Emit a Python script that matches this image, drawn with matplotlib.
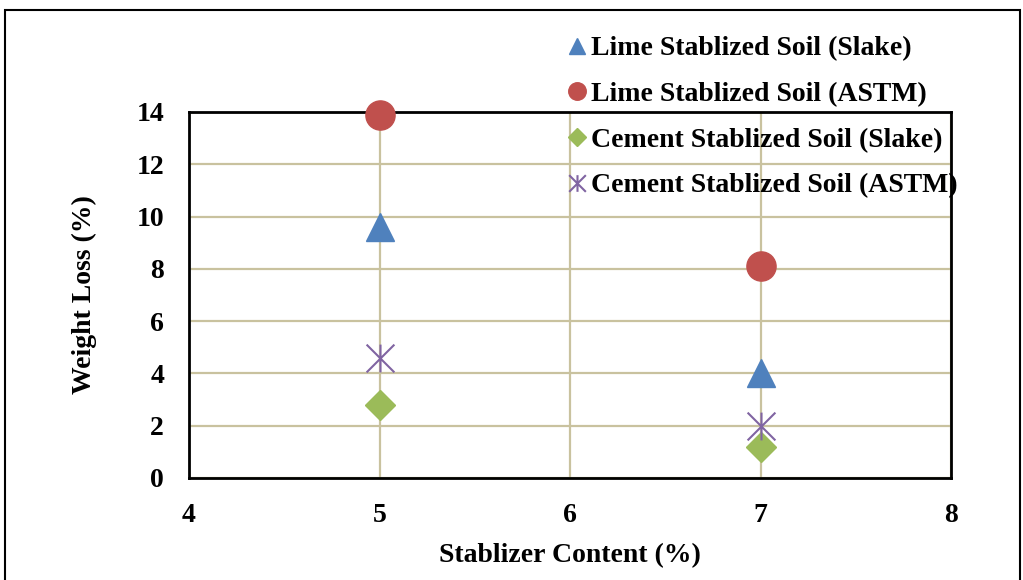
import matplotlib
matplotlib.use("Agg")
import matplotlib.pyplot as plt
from matplotlib.path import Path
from matplotlib.patches import Rectangle

x_content = [5, 7]
lime_slake = [9.6, 4.0]
lime_astm = [13.9, 8.1]
cement_slake = [2.8, 1.2]
cement_astm = [4.6, 2.0]
labels = ["Lime Stablized Soil (Slake)", "Lime Stablized Soil (ASTM)",
          "Cement Stablized Soil (Slake)", "Cement Stablized Soil (ASTM)"]
x_ticks = [4, 5, 6, 7, 8]
y_ticks = [0, 2, 4, 6, 8, 10, 12, 14]

plt.rcParams['font.family'] = ['Liberation Serif', 'DejaVu Serif']
plt.rcParams['font.weight'] = 'bold'

fig = plt.figure(figsize=(10.23, 5.8), dpi=100)
ax = fig.add_axes([0.1848, 0.1759, 0.7449, 0.631])

star = Path([(-1, -1), (1, 1), (-1, 1), (1, -1), (0, -1), (0, 1)],
            [Path.MOVETO, Path.LINETO, Path.MOVETO, Path.LINETO, Path.MOVETO, Path.LINETO])

ax.plot(x_content, lime_slake, ls='none', marker='^', ms=20, color='#4F81BD', label=labels[0], zorder=3, clip_on=False)
ax.plot(x_content, lime_astm, ls='none', marker='o', ms=21, color='#C0504D', label=labels[1], zorder=3, clip_on=False)
ax.plot(x_content, cement_slake, ls='none', marker='D', ms=15, color='#9BBB59', label=labels[2], zorder=3, clip_on=False)
ax.plot(x_content, cement_astm, ls='none', marker=star, ms=20, mew=1.5, color='#8064A2',
        markerfacecolor='none', label=labels[3], zorder=3, clip_on=False)

ax.set_xlim(4, 8)
ax.set_ylim(0, 14)
ax.set_xticks(x_ticks)
ax.set_yticks(y_ticks)
ax.grid(True, color='#C9C29F', lw=1.6, zorder=0)
ax.set_axisbelow(True)
ax.tick_params(length=0, labelsize=20, pad=18)
for lab in ax.get_xticklabels() + ax.get_yticklabels():
    lab.set_fontweight('bold')
for s in ax.spines.values():
    s.set_color('black')
    s.set_linewidth(2)

ax.set_xlabel("Stablizer Content (%)", fontsize=20, fontweight='bold', labelpad=11)
ax.set_ylabel("Weight Loss (%)", fontsize=20, fontweight='bold', labelpad=28)

leg = fig.legend(loc='upper left', bbox_to_anchor=(0.553, 0.938), frameon=False,
                 fontsize=20, handletextpad=0.1, labelspacing=0.73, markerscale=0.6,
                 handlelength=0.8, borderaxespad=0, borderpad=0)
for t in leg.get_texts():
    t.set_fontweight('bold')

fig.patches.append(Rectangle((5 / 1023, -0.05), 1015 / 1023, 1.05 - 10 / 580, transform=fig.transFigure,
                             fill=False, edgecolor='black', lw=1.5, zorder=10))

fig.savefig("out.png", dpi=100)
